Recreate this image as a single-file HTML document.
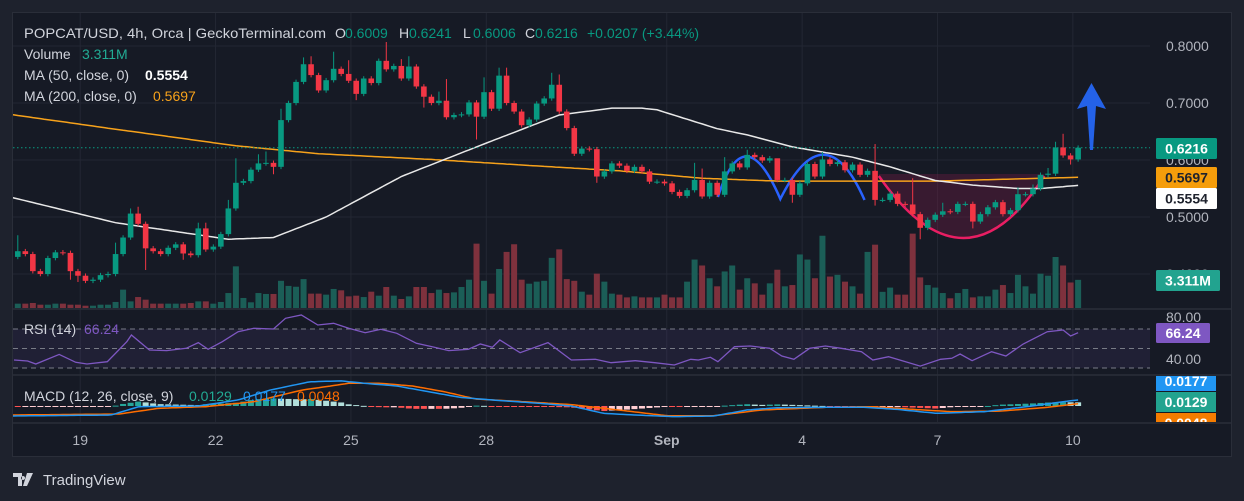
<!DOCTYPE html>
<html><head><meta charset="utf-8">
<style>
html,body{margin:0;padding:0;background:#1e222d;width:1244px;height:501px;overflow:hidden}
svg{display:block;font-family:"Liberation Sans",sans-serif}
</style></head>
<body>
<svg id="c" width="1244" height="501" viewBox="0 0 1244 501" xmlns="http://www.w3.org/2000/svg">
<defs>
<clipPath id="mainClip"><rect x="13" y="13" width="1137" height="295"/></clipPath>
<clipPath id="rsiClip"><rect x="13" y="310" width="1137" height="64"/></clipPath>
<clipPath id="macdClip"><rect x="13" y="376" width="1137" height="46"/></clipPath>
</defs>
<rect x="0" y="0" width="1244" height="501" fill="#1e222d"/>
<rect x="12.5" y="12.5" width="1219" height="444" fill="#161a25" stroke="#2a2e39"/>
<g id="grid"></g>
<g id="vol" clip-path="url(#mainClip)"></g>
<g id="anno" clip-path="url(#mainClip)"></g>
<g id="ma" clip-path="url(#mainClip)"></g>
<g id="candles" clip-path="url(#mainClip)"></g>
<g id="rsi" clip-path="url(#rsiClip)"></g>
<g id="macd" clip-path="url(#macdClip)"></g>
<g id="axes"></g>
<g id="legend"></g>
</svg>
<script>
const closes=[0.440,0.435,0.405,0.400,0.428,0.438,0.437,0.405,0.397,0.388,0.390,0.398,0.400,0.435,0.464,0.506,0.488,0.445,0.440,0.435,
0.446,0.452,0.436,0.433,0.480,0.443,0.448,0.470,0.515,0.560,0.563,0.583,0.594,0.595,0.588,0.670,0.700,0.737,0.768,0.749,
0.722,0.740,0.760,0.751,0.739,0.716,0.743,0.735,0.774,0.759,0.765,0.743,0.764,0.729,0.711,0.700,0.704,0.675,0.679,0.680,
0.701,0.676,0.719,0.690,0.748,0.700,0.685,0.661,0.671,0.699,0.708,0.732,0.685,0.656,0.611,0.620,0.619,0.571,0.580,0.594,
0.590,0.581,0.588,0.580,0.562,0.562,0.559,0.544,0.537,0.547,0.565,0.536,0.560,0.539,0.580,0.594,0.587,0.609,0.605,0.599,
0.603,0.565,0.565,0.539,0.559,0.593,0.571,0.601,0.593,0.596,0.582,0.592,0.574,0.581,0.530,0.530,0.541,0.523,0.522,0.505,
0.481,0.495,0.504,0.510,0.509,0.523,0.523,0.492,0.505,0.517,0.526,0.505,0.512,0.540,0.540,0.550,0.574,0.576,0.622,0.608,
0.601,0.6216];
const firstOpen=0.430;
const wickOverrides={1:[0.468,null],8:[null,0.390],9:[null,0.386],14:[0.455,null],16:[0.515,null],17:[0.518,null],18:[null,0.407],23:[null,0.425],25:[0.490,null],26:[0.490,null],29:[0.530,null],30:[0.603,null],33:[0.610,null],34:[0.615,null],35:[null,0.575],36:[0.690,null],39:[0.780,null],40:[0.782,null],43:[0.790,null],45:[0.775,null],46:[null,0.705],50:[0.807,null],52:[0.777,null],53:[0.782,null],55:[null,0.692],57:[0.720,null],58:[0.742,null],62:[null,0.636],63:[0.745,null],65:[0.762,null],66:[0.762,null],72:[0.753,null],73:[0.750,null],78:[null,0.560],91:[0.595,null],92:[0.585,null],95:[0.605,null],98:[0.618,null],102:[0.582,null],104:[null,0.525],108:[0.614,null],115:[0.628,0.520],120:[0.568,null],121:[null,0.461],124:[0.525,null],128:[null,0.480],134:[0.552,null],136:[0.557,null],138:[0.586,null],139:[0.632,null],140:[0.646,null],141:[null,0.592]};
const volumes=[0.51,0.51,0.59,0.39,0.39,0.51,0.51,0.39,0.39,0.27,0.27,0.39,0.39,0.71,2.16,0.78,1.29,0.98,0.51,0.51,
0.51,0.51,0.51,0.59,0.78,0.78,0.51,0.71,1.76,4.9,1.18,0.67,1.76,1.65,1.65,3.2,2.6,2.5,3.4,1.69,
1.69,1.57,2.24,2.08,1.37,1.45,1.29,1.92,1.45,2.47,1.45,1.06,1.37,2.47,2.47,1.76,2.16,1.76,1.84,2.47,
3.33,7.57,3.2,1.69,4.59,6.6,7.5,3.33,2.86,3.1,3.2,5.9,6.9,3.4,3.2,1.92,1.57,4.04,3.1,1.69,
1.57,1.25,1.37,1.25,1.25,1.25,1.57,1.25,1.25,3.1,5.7,5.0,3.5,2.55,4.3,5.0,2.16,3.5,2.9,1.57,
2.9,4.5,2.55,2.7,6.3,5.7,3.5,8.5,3.7,3.9,3.1,2.55,1.69,6.6,7.45,1.9,2.4,1.57,1.57,8.75,
3.6,2.7,2.4,1.76,1.14,1.76,2.24,1.25,1.37,1.37,2.16,2.7,1.76,3.9,2.55,1.69,4.04,3.8,6.0,5.0,3.0,3.311];
const ma50Idx=[0,14,29,35,42,52,62,73,80,84,86,94,98,104,112,117,123,128,134,137,142];
const ma50Val=[0.535,0.490,0.461,0.464,0.500,0.571,0.623,0.679,0.691,0.691,0.688,0.655,0.644,0.623,0.605,0.588,0.564,0.556,0.550,0.550,0.5554];
const ma200Idx=[0,14,30,41,56,72,81,92,102,123,142];
const ma200Val=[0.680,0.654,0.625,0.611,0.601,0.588,0.581,0.568,0.563,0.563,0.5697];
const rsiIdx=[0.5,2.3,3.4,6.5,8.7,10.2,12.9,15.5,16.1,18.5,20.8,23.4,25,26.3,28.2,30.3,32.4,35,36.6,38.7,40.9,43,45,47.2,49.3,51.4,54,56.1,58.3,60.9,62.5,64.1,65.1,67.8,71.5,74.6,77.8,79.9,83.1,85.7,88.3,90.5,91.5,93.1,94.1,96.3,98.4,101,102.6,104.2,106.3,108.4,110.5,113.2,114.7,116.8,121,123.7,125.2,126.3,127.9,130.5,132.4,134.7,137.9,140,141,142];
const rsiVal=[38.2,37.2,34.1,44,35.8,34.1,36.5,57,63.8,48.5,47.8,50.2,56,49.2,57,67.2,70.7,70,81,84.4,74.1,75.8,70.7,66.2,69.7,65.6,55.3,51.8,47.8,49.2,54.6,51.2,58.7,45.7,56,38.2,38.9,35.4,37.5,35.4,33.1,38.9,38.2,41,36.5,51.8,52.6,50.2,42.3,38.9,50.2,52.6,50.2,46.7,38.2,41.6,32,38.9,40,44.4,37.5,46.7,42.3,54.6,67.2,69,62.8,66.24];
const rsiTicks=[80,40];
const macdIdx=[0,13.4,17.1,25,30.3,34.5,39.8,44,47.2,51.4,55.6,59.8,64.1,70.4,74.6,78.9,83.1,88.3,93.6,97.9,102.1,108.4,113.7,117.9,123.2,129.5,135.9,140,142];
const macdVal=[-21.5,-19.4,-1.4,0,12.9,34,52,54,48.7,43,30.8,18.6,12.9,5.7,0,-15.8,-19.4,-22.9,-21.5,-8.6,-3.6,-2.9,-2.9,-7.2,-15.8,-12.2,0,9.3,12.9];
const sigIdx=[0,14.5,19.7,26,32.4,38.7,45,49.3,53.5,57.7,61.9,68.3,74.6,80.9,87.3,93.6,99.9,108.4,114.7,120,125.2,131.6,137.9,142];
const sigVal=[-19.4,-17.2,-5,-1.4,9.3,34,48.7,48.7,43,30.8,15,9.3,3,-8.6,-20.8,-20.8,-8.6,-2.9,-1.4,-7.2,-12.2,-11,-2.9,5];
const priceTicks=[0.8,0.7,0.6,0.5,0.4];
const dateLabels=["19","22","25","28","Sep","4","7","10"];
const dateIdx=[9.3,27.3,45.3,63.3,87.3,105.3,123.3,141.3];

const NS="http://www.w3.org/2000/svg";
const X=i=>17.8+(i-1)*7.52;
const Y=p=>46+(0.8-p)*570;
const VY=v=>308-v*8.5;
const RY=v=>329+(70-v)*0.975;
const MY=v=>406-v/2.15;
function mk(parent,tag,attrs){const e=document.createElementNS(NS,tag);for(const k in attrs)e.setAttribute(k,attrs[k]);parent.appendChild(e);return e;}
function interp(idx,val,i){if(i<=idx[0])return val[0];for(let k=1;k<idx.length;k++){if(i<=idx[k]){const t=(i-idx[k-1])/(idx[k]-idx[k-1]);return val[k-1]+t*(val[k]-val[k-1]);}}return val[val.length-1];}
const G=id=>document.getElementById(id);

const grid=G('grid');
priceTicks.forEach(p=>{const l=mk(grid,'line',{x1:13,x2:1150,y1:Y(p),y2:Y(p),stroke:'#232733'});
});
dateIdx.forEach(i=>{const l=mk(grid,'line',{x1:X(i),x2:X(i),y1:13,y2:422,stroke:'#232733'});
});
[309,375,423].forEach(y=>{const l=mk(grid,'line',{x1:13,x2:1231,y1:y,y2:y,stroke:'#2a2e39','stroke-width':1.5});
});

const cg=G('candles'),vg=G('vol');
closes.forEach((c,k)=>{
 const i=k+1,o=k===0?firstOpen:closes[k-1];
 const up=c>=o,col=up?'#089981':'#f23645';
 let hi=Math.max(o,c)+0.004,lo=Math.min(o,c)-0.004;
 const ov=wickOverrides[i];if(ov){if(ov[0]!=null)hi=ov[0];if(ov[1]!=null)lo=ov[1];}
 const w=mk(cg,'line',{x1:X(i),x2:X(i),y1:Y(hi),y2:Y(lo),stroke:col,'stroke-width':1});
 
 const top=Y(Math.max(o,c)),h=Math.max(1,Math.abs(Y(o)-Y(c)));
 const b=mk(cg,'rect',{x:X(i)-2.8,y:top,width:5.6,height:h,fill:col});
 
 const v=mk(vg,'rect',{x:X(i)-3,y:VY(volumes[k]),width:6,height:volumes[k]*8.5,fill:up?'#1b5e57':'#7e313d'});
 
});

const ag=G('anno');
const shade=mk(ag,'path',{d:`M${X(115.5)},174 L${X(137.5)},174 L${X(137.5)},178 Q${X(127)},300 ${X(115.5)},176 Z`,fill:'rgba(120,30,70,0.35)'});

const cup=mk(ag,'path',{d:`M${X(115.5)},176 Q${X(127)},300 ${X(137.5)},176`,fill:'none',stroke:'#e91e63','stroke-width':2.5});

const blue=mk(ag,'path',{d:`M${X(94.1)},197 Q${X(97.6)},115 ${X(102.4)},199 Q${X(108.3)},110 ${X(113.6)},200`,fill:'none',stroke:'#2962ff','stroke-width':2.5});

const arrow=mk(G('axes'),'path',{d:'M1091.5,83 L1106,109 L1096,106 L1093,150 L1090,150 L1087,106 L1077,109 Z',fill:'#2462e8'});


const mg=G('ma');
function maPath(idx,val){let d='';for(let i=0;i<=142;i+=0.5){d+=(i?'L':'M')+X(i).toFixed(1)+','+Y(interp(idx,val,i)).toFixed(1);}return d;}
const m200=mk(mg,'path',{d:maPath(ma200Idx,ma200Val),fill:'none',stroke:'#f7a21b','stroke-width':1.5});

const m50=mk(mg,'path',{d:maPath(ma50Idx,ma50Val),fill:'none',stroke:'#e8e8e8','stroke-width':1.5});

const pl=mk(mg,'line',{x1:13,x2:1150,y1:Y(closes[141]),y2:Y(closes[141]),stroke:'#089981','stroke-dasharray':'1.5 2.5'});


const rg=G('rsi');
const band=mk(rg,'rect',{x:13,y:RY(70),width:1137,height:RY(30)-RY(70),fill:'rgba(126,87,194,0.1)'});

[70,50,30].forEach(v=>{const l=mk(rg,'line',{x1:13,x2:1150,y1:RY(v),y2:RY(v),stroke:'#787b86','stroke-dasharray':'5 4','stroke-width':1});
});
let rd='';rsiIdx.forEach((i,k)=>{rd+=(k?'L':'M')+X(i).toFixed(1)+','+RY(rsiVal[k]).toFixed(1);});
const rl=mk(rg,'path',{d:rd,fill:'none',stroke:'#7e57c2','stroke-width':1.3});


const mcg=G('macd');
let prev=null;
for(let i=1;i<=142;i++){
 const h=interp(macdIdx,macdVal,i)-interp(sigIdx,sigVal,i);
 let col;if(h>=0)col=(prev===null||h>=prev)?'#26a69a':'#b2dfdb';else col=(prev===null||h<=prev)?'#ff5252':'#ffcdd2';
 prev=h;
 const y1=MY(Math.max(0,h)),hh=Math.max(1,Math.abs(h)/2.15);
 const r=mk(mcg,'rect',{x:X(i)-3,y:y1,width:6,height:hh,fill:col});
 
}
function linePath(idx,val){let d='';for(let i=0;i<=142;i+=0.5){d+=(i?'L':'M')+X(i).toFixed(1)+','+MY(interp(idx,val,i)).toFixed(1);}return d;}
const sl=mk(mcg,'path',{d:linePath(sigIdx,sigVal),fill:'none',stroke:'#ff6d00','stroke-width':1.5});

const ml=mk(mcg,'path',{d:linePath(macdIdx,macdVal),fill:'none',stroke:'#2196f3','stroke-width':1.5});


const ax=G('axes');
priceTicks.forEach(p=>{const t=mk(ax,'text',{x:1166,y:Y(p)+5,fill:'#b2b5be','font-size':14});t.textContent=p.toFixed(4);
});
rsiTicks.forEach(v=>{const t=mk(ax,'text',{x:1166,y:(v===80?322:364),fill:'#b2b5be','font-size':14});t.textContent=v.toFixed(2);
});
dateLabels.forEach((s,k)=>{const t=mk(ax,'text',{x:X(dateIdx[k]),y:445,fill:'#b2b5be','font-size':14,'text-anchor':'middle','font-weight':s==='Sep'?'bold':'normal'});t.textContent=s;
});
function badge(x,y,w,h,bg,fg,txt,name){const g=mk(ax,'g',{});
 mk(g,'rect',{x:x,y:y,width:w,height:h,fill:bg,rx:1.5});const t=mk(g,'text',{x:x+w/2,y:y+h/2+5,fill:fg,'font-size':14,'font-weight':'bold','text-anchor':'middle'});t.textContent=txt;}
badge(1156,138,61,21,'#089981','#ffffff','0.6216','last-price-badge');
badge(1156,167,61,21,'#f59d0b','#1e222d','0.5697','ma200-badge');
badge(1156,188,61,21,'#ffffff','#1e222d','0.5554','ma50-badge');
badge(1156,270,64,21,'#22a38f','#ffffff','3.311M','volume-badge');
badge(1156,323,54,20,'#7e57c2','#ffffff','66.24','rsi-badge');
const clipG=mk(ax,'svg',{x:1150,y:376,width:82,height:46});

[[0,15,'#2196f3','#fff','0.0177'],[16,20,'#22a38f','#fff','0.0129'],[37,20,'#f57c00','#fff','0.0048']].forEach(b=>{
 mk(clipG,'rect',{x:6,y:b[0]-(b[0]===0?5:0),width:60,height:b[1]+(b[0]===0?5:0),fill:b[2]});
 const t=mk(clipG,'text',{x:36,y:b[0]+(b[0]===0?10:15),fill:b[3],'font-size':14,'font-weight':'bold','text-anchor':'middle'});t.textContent=b[4];});

const lg=G('legend');
function txt(x,y,s,col,opts){const t=mk(lg,'text',Object.assign({x:x,y:y,fill:col,'font-size':14},opts||{}));t.textContent=s;return t;}
let t;
t=txt(24,38,'POPCAT/USD, 4h, Orca | GeckoTerminal.com','#d1d4dc',{textLength:302,lengthAdjust:'spacingAndGlyphs'});
[['O',335,'0.6009'],['H',399,'0.6241'],['L',463,'0.6006'],['C',525,'0.6216']].forEach(a=>{
 t=txt(a[1],38,a[0],'#d1d4dc');
 t=txt(a[1]+10,38,a[2],'#089981');});
t=txt(587,38,'+0.0207 (+3.44%)','#089981');
t=txt(24,59,'Volume','#d1d4dc');
t=txt(82,59,'3.311M','#22ab94');
t=txt(24,80,'MA (50, close, 0)','#d1d4dc');
t=txt(145,80,'0.5554','#ffffff',{'font-weight':'bold'});
t=txt(24,101,'MA (200, close, 0)','#d1d4dc');
t=txt(153,101,'0.5697','#f7a21b');
t=txt(24,334,'RSI (14)','#d1d4dc');
t=txt(84,334,'66.24','#7e57c2');
t=txt(24,401,'MACD (12, 26, close, 9)','#d1d4dc');
t=txt(189,401,'0.0129','#22ab94');
t=txt(243,401,'0.0177','#2196f3');
t=txt(297,401,'0.0048','#ff6d00');

const fg=mk(lg,'g',{});
mk(fg,'path',{d:'M13,473 h9 v13 h-4 v-9 h-5 Z M23,476 a2,2 0 1 0 0.1,0 Z M27,473 h6 l-6,13 h-4 Z',fill:'#d1d4dc'});
const ft=mk(fg,'text',{x:43,y:485,fill:'#d1d4dc','font-size':15});ft.textContent='TradingView';
</script>
</body></html>
